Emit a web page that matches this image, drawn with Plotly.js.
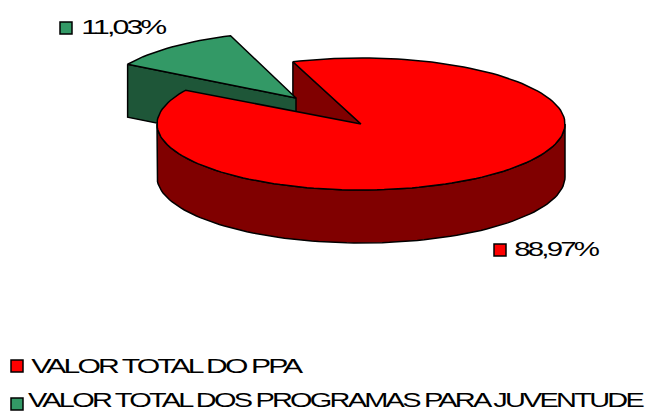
<!DOCTYPE html>
<html>
<head>
<meta charset="utf-8">
<script src="https://cdn.plot.ly/plotly-3.0.1.min.js"></script>
<style>
html,body{margin:0;padding:0;background:#fff}
#chart{width:657px;height:411px}
.annotation-text{letter-spacing:-2px}
</style>
</head>
<body>
<div id="chart"></div>
<script>
// Data
var categories = ["VALOR TOTAL DO PPA", "VALOR TOTAL DOS PROGRAMAS PARA JUVENTUDE"];
var shares = [88.97, 11.03];
var topColors = ["#ff0000", "#339966"];
var sideColors = ["#800000", "#1e5638"];

// Pie geometry, in axis units (axes span the page pixels)
var startAngle = 109.5, depth = 53;
var redPie = {cx: 361, cy: 124, rx: 204, ry: 66};
var greenPie = {cx: 296, cy: 98, rx: 196, ry: 66};

function pt(p, deg, dz) {
  var r = deg * Math.PI / 180;
  return [p.cx + p.rx * Math.cos(r), p.cy - p.ry * Math.sin(r) + (dz || 0)];
}
function arc(p, a, b, dz) {
  var out = [], n = Math.max(2, Math.ceil(Math.abs(b - a) / 2));
  for (var i = 0; i <= n; i++) out.push(pt(p, a + (b - a) * i / n, dz));
  return out;
}
function poly(points, fill, name) {
  var closed = points.concat([points[0]]);
  return {
    type: "scatter", mode: "lines", fill: "toself", fillcolor: fill,
    x: closed.map(function (q) { return q[0]; }),
    y: closed.map(function (q) { return q[1]; }),
    line: {color: "#000000", width: 1.5, shape: "linear"},
    hoverinfo: "skip", showlegend: false, name: name || ""
  };
}

var total = shares[0] + shares[1];
var redEnd = startAngle - shares[0] / total * 360;
var greenEnd = startAngle + shares[1] / total * 360;

var tipG = [greenPie.cx, greenPie.cy];
var leftG = pt(greenPie, greenEnd);
var centreR = [redPie.cx, redPie.cy];
var startR = pt(redPie, startAngle);

var traces = [
  // red inner cut face sits behind the green wedge
  poly([startR, centreR, [centreR[0], centreR[1] + depth], [startR[0], startR[1] + depth]], sideColors[0], categories[0]),
  // green wedge: cut face then top
  poly([leftG, tipG, [tipG[0], tipG[1] + depth], [leftG[0], leftG[1] + depth]], sideColors[1], categories[1]),
  poly([tipG].concat(arc(greenPie, startAngle, greenEnd)), topColors[1], categories[1]),
  // red wedge: outer wall, top
  poly(arc(redPie, 0, -180).concat(arc(redPie, -180, 0, depth)), sideColors[0], categories[0]),
  poly([centreR].concat(arc(redPie, startAngle, redEnd)), topColors[0], categories[0])
];

// Swatches beside the texts
var swatchX = [17, 17, 500, 66];
var swatchY = [366, 404, 250, 28];
var swatchC = [topColors[0], topColors[1], topColors[0], topColors[1]];
traces.push({
  type: "scatter", mode: "markers", x: swatchX, y: swatchY,
  marker: {symbol: "square", size: 12, color: swatchC, line: {color: "#000000", width: 1.5}},
  hoverinfo: "skip", showlegend: false, cliponaxis: false
});

function pct(v) { return v.toFixed(2).replace(".", ",") + "%"; }
var textFont = {family: "Liberation Sans, Arial, sans-serif", size: 21, color: "#000000"};
// The reference's text is wide and tightly set: each text is fitted to its width
var textWidths = [269, 614, 83, 83];
var textLefts = [32, 29, 515, 82];
function note(text, i, y) {
  return {text: text, x: textLefts[i] + textWidths[i] / 2, y: y, xref: "x", yref: "y",
          xanchor: "center", yanchor: "middle",
          showarrow: false, font: textFont, borderpad: 0, borderwidth: 0};
}
var annotations = [
  note(categories[0], 0, 365),
  note(categories[1], 1, 399),
  note(pct(shares[0]), 2, 248),
  note(pct(shares[1]), 3, 26)
];

var layout = {
  width: 657, height: 411,
  margin: {l: 0, r: 0, t: 0, b: 0},
  paper_bgcolor: "#ffffff", plot_bgcolor: "#ffffff",
  showlegend: false,
  xaxis: {range: [0, 657], visible: false, fixedrange: true},
  yaxis: {range: [411, 0], visible: false, fixedrange: true},
  annotations: annotations
};
Plotly.newPlot("chart", traces, layout, {displayModeBar: false, staticPlot: true}).then(function () {
  document.querySelectorAll("#chart .annotation-text").forEach(function (el, i) {
    el.setAttribute("textLength", textWidths[i]);
    el.setAttribute("lengthAdjust", "spacingAndGlyphs");
  });
});
</script>
</body>
</html>
